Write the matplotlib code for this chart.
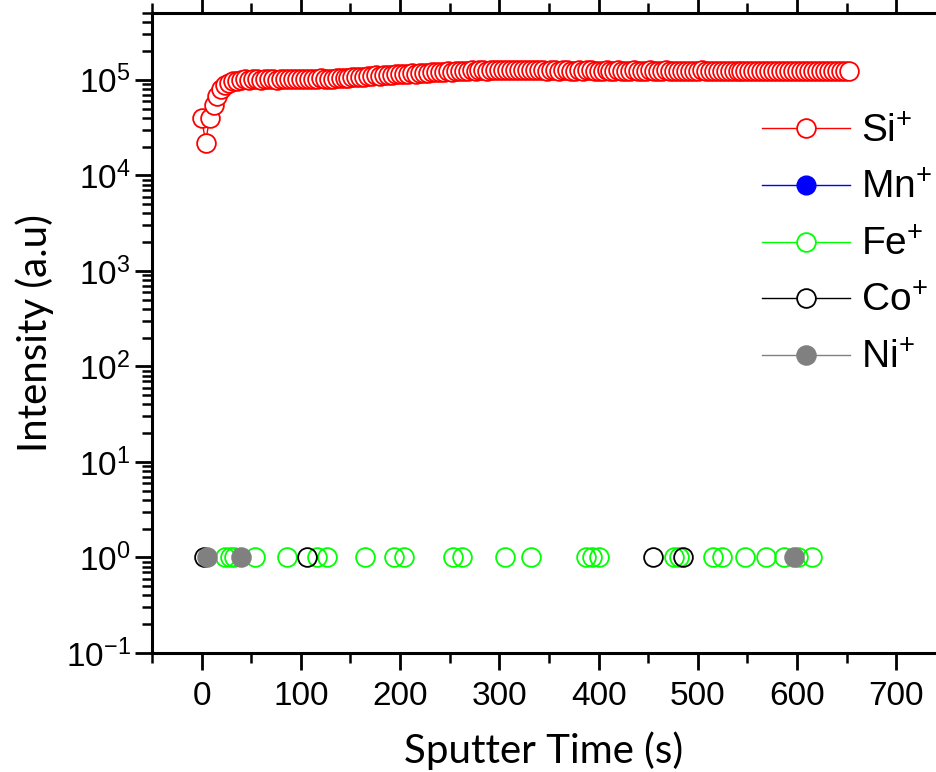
import numpy as np
import matplotlib
matplotlib.use("Agg")
import matplotlib.pyplot as plt
from matplotlib.lines import Line2D

plt.rcParams["font.family"] = ["Liberation Sans", "DejaVu Sans"]
plt.rcParams["mathtext.fontset"] = "custom"
plt.rcParams["mathtext.rm"] = "Liberation Sans"
plt.rcParams["mathtext.it"] = "Liberation Sans:italic"
plt.rcParams["axes.unicode_minus"] = False

# Si+ signal, sampled every 4 s (values in units of 1e5)
si_time = np.arange(0, 653, 4)
si_val = [0.40, 0.22, 0.40, 0.55, 0.68, 0.80, 0.88, 0.93, 0.96, 0.98,
          1.00, 1.01, 1.00, 1.02, 1.01, 1.00, 1.01, 1.02, 1.01, 1.00, 1.02, 1.03, 1.02,
          1.01, 1.02, 1.03, 1.02, 1.01, 1.02, 1.03, 1.04, 1.03, 1.02, 1.03, 1.04,
          1.05, 1.04, 1.05, 1.06, 1.07, 1.08, 1.07, 1.09, 1.10, 1.11, 1.10, 1.12, 1.13,
          1.12, 1.14, 1.15, 1.14, 1.16, 1.17, 1.16, 1.18, 1.19, 1.18, 1.20, 1.21,
          1.20, 1.22, 1.23, 1.22, 1.24, 1.23, 1.25, 1.24, 1.26, 1.25, 1.27, 1.26, 1.25,
          1.27, 1.28, 1.27, 1.26, 1.28, 1.27, 1.28, 1.27, 1.26, 1.28, 1.27, 1.26,
          1.27, 1.26, 1.25, 1.27, 1.26, 1.25, 1.26, 1.27, 1.25, 1.24, 1.26, 1.25, 1.26,
          1.27, 1.25, 1.24, 1.25, 1.26, 1.25, 1.24, 1.26, 1.25, 1.24, 1.25, 1.26,
          1.25, 1.24, 1.25, 1.26, 1.24, 1.25, 1.24, 1.26, 1.25, 1.24, 1.25, 1.23, 1.24,
          1.25, 1.24, 1.25, 1.26, 1.24, 1.25, 1.24, 1.23, 1.25, 1.24, 1.25, 1.24,
          1.25, 1.24, 1.23, 1.25, 1.24, 1.23, 1.24, 1.25, 1.24, 1.23, 1.25, 1.24, 1.23,
          1.24, 1.25, 1.24, 1.23, 1.24, 1.25, 1.23, 1.24, 1.25, 1.24, 1.23, 1.24,
          1.25, 1.24, 1.25, 1.24]
si_val = np.array(si_val) * 1e5

# the other ions only show single counts
mn_time = []
mn_val = []
fe_time = [24, 29, 33, 54, 86, 116, 126, 165, 194, 204, 253, 262, 306, 332,
           387, 393, 400, 476, 481, 515, 524, 548, 569, 587, 601, 615]
fe_val = [1] * len(fe_time)
co_time = [2, 106, 455, 485]
co_val = [1] * len(co_time)
ni_time = [5, 40, 597]
ni_val = [1] * len(ni_time)

labels = ["Si$^{+}$", "Mn$^{+}$", "Fe$^{+}$", "Co$^{+}$", "Ni$^{+}$"]

fig = plt.figure(figsize=(9.36, 7.72), dpi=100)
ax = fig.add_axes([152 / 936, 1 - 653 / 772, 1 - 152 / 936, (653 - 13) / 772])

ms = 13.5
mew = 1.3
ax.plot(si_time, si_val, "-", color="red", lw=1, marker="o", ms=ms, mfc="white", mec="red", mew=mew)
ax.plot(mn_time, mn_val, "o", color="blue", ms=ms, mec="blue")
ax.plot(fe_time, fe_val, "o", ms=ms, mfc="none", mec="#00ff00", mew=mew)
ax.plot(co_time, co_val, "o", ms=ms, mfc="none", mec="black", mew=mew)
ax.plot(ni_time, ni_val, "o", ms=ms, mfc="gray", mec="gray", mew=mew)

ax.set_yscale("log")
ax.set_ylim(0.1, 5e5)
ax.set_xlim(-50, 740)
ax.set_xticks(range(0, 701, 100))
ax.set_xticks(range(-50, 740, 50), minor=True)

ax.spines["right"].set_visible(False)
for s in ["left", "bottom", "top"]:
    ax.spines[s].set_linewidth(2.2)
ax.tick_params(axis="both", which="major", direction="out", length=12, width=2, labelsize=24)
ax.tick_params(axis="both", which="minor", direction="out", length=7, width=1.8)
ax.tick_params(axis="x", top=True, which="both")
ax.tick_params(axis="x", pad=8)

ax.set_xlabel("Sputter Time (s)", fontsize=29, family="Lato", labelpad=14)
ax.set_ylabel("Intensity (a.u)", fontsize=29, family="Lato", labelpad=8)

handles = [
    Line2D([], [], color="red", lw=1, marker="o", ms=ms, mfc="white", mec="red", mew=mew),
    Line2D([], [], color="blue", lw=1, marker="o", ms=ms, mfc="blue", mec="blue"),
    Line2D([], [], color="#00ff00", lw=1, marker="o", ms=ms, mfc="white", mec="#00ff00", mew=mew),
    Line2D([], [], color="black", lw=1, marker="o", ms=ms, mfc="white", mec="black", mew=mew),
    Line2D([], [], color="gray", lw=1, marker="o", ms=ms, mfc="gray", mec="gray", mew=mew),
]
fig.legend(handles, labels, loc="upper left", bbox_to_anchor=(762 / 936, 1 - 114 / 772),
           frameon=False, fontsize=28, handlelength=2.25, handletextpad=0.3,
           labelspacing=0.53, borderpad=0, borderaxespad=0)

plt.savefig("out.png", dpi=100)
